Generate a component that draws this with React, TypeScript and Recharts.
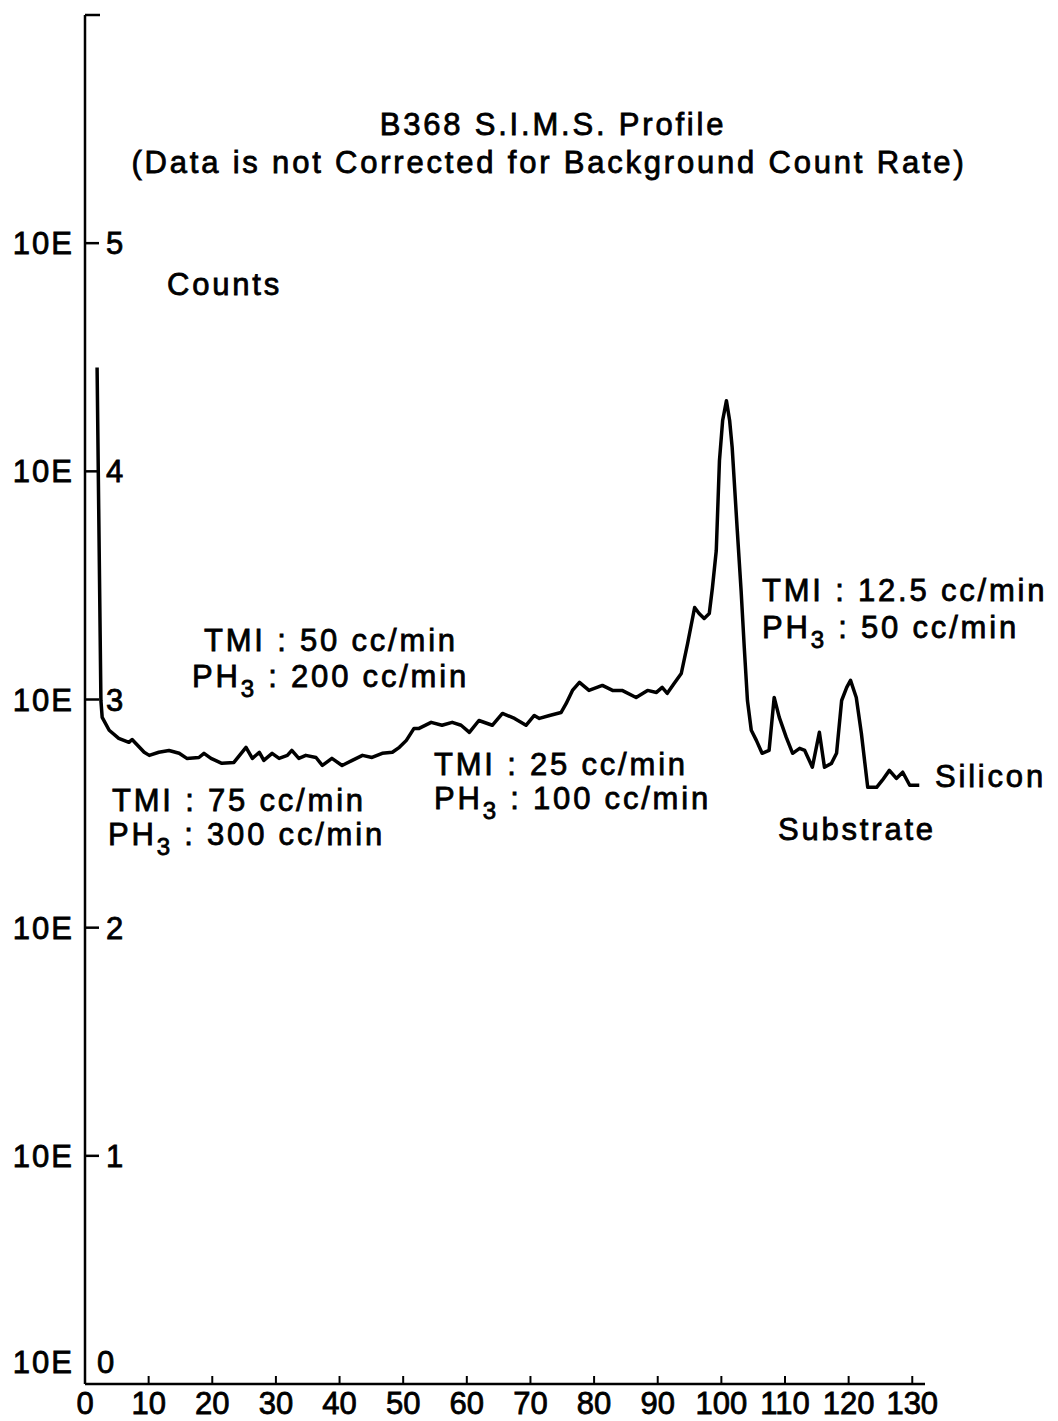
import React from 'react';
import { LineChart, Line, XAxis, YAxis, Customized } from 'recharts';

const depth = [1.9, 2.5, 2.7, 3.8, 5.3, 6.9, 7.4, 9.3, 10.1, 11.6, 13.2, 14.8, 16.0, 17.9, 18.7, 19.8, 21.5, 23.4, 25.3, 26.3, 27.4, 28.1, 29.4, 30.5, 31.8, 32.5, 33.6, 34.7, 36.3, 37.3, 38.8, 40.4, 42.0, 43.6, 45.1, 46.7, 48.3, 49.4, 50.5, 51.7, 52.5, 54.4, 56.1, 57.7, 59.1, 60.4, 61.9, 64.0, 65.6, 67.5, 69.3, 70.6, 71.4, 73.0, 74.8, 75.6, 76.6, 77.7, 79.2, 81.3, 82.9, 84.4, 86.6, 88.4, 89.8, 90.7, 91.5, 92.6, 93.7, 94.7, 95.8, 96.5, 97.3, 98.1, 98.6, 99.2, 99.7, 100.2, 100.8, 101.3, 101.7, 102.5, 103.1, 103.6, 104.1, 104.7, 105.5, 106.4, 107.5, 108.3, 109.1, 110.2, 111.2, 112.3, 113.1, 114.3, 115.4, 116.2, 117.3, 118.1, 118.9, 119.7, 120.3, 121.2, 122.0, 123.0, 124.4, 125.3, 126.4, 127.5, 128.5, 129.6, 131.1];

const counts = [28500, 990, 835, 733, 676, 649, 668, 587, 569, 587, 598, 581, 552, 557, 581, 552, 525, 530, 617, 552, 587, 541, 581, 552, 569, 598, 552, 569, 557, 514, 552, 514, 541, 569, 557, 581, 587, 617, 662, 747, 747, 794, 771, 794, 771, 718, 809, 771, 869, 826, 771, 851, 826, 851, 877, 959, 1096, 1189, 1096, 1153, 1096, 1096, 1021, 1096, 1074, 1130, 1064, 1178, 1300, 1762, 2530, 2382, 2265, 2382, 3097, 4498, 11140, 16700, 20400, 16700, 12700, 5508, 3006, 1690, 990, 733, 662, 581, 598, 1021, 835, 682, 581, 611, 598, 505, 718, 505, 525, 581, 990, 1130, 1213, 1021, 711, 412, 412, 443, 489, 451, 480, 421, 421];

const xTicks = [0, 10, 20, 30, 40, 50, 60, 70, 80, 90, 100, 110, 120, 130];
const yTicks = [1, 10, 100, 1000, 10000, 100000, 1000000];

const title = 'B368 S.I.M.S. Profile';
const subtitle = '(Data is not Corrected for Background Count Rate)';

const data = depth.map((d, i) => ({ depth: d, counts: counts[i] }));

const FONT = '"Liberation Sans", Arial, Helvetica, sans-serif';
const INK = '#000';
const FS = 31;
const SW = 0.8;
const txtStyle: React.CSSProperties = { letterSpacing: 2.8 };

const YTick = (props: any) => {
  const { x, y, payload } = props;
  const exp = Math.round(Math.log10(payload.value));
  if (exp === 6) {
    return <line x1={x} x2={x + 15} y1={y} y2={y} stroke={INK} strokeWidth={2.5} />;
  }
  const yy = exp === 0 ? y - 22 : y;
  return (
    <g>
      {exp !== 0 && <line x1={x} x2={x + 14} y1={y} y2={y} stroke={INK} strokeWidth={2.5} />}
      <text x={x - 11} y={yy + 11} textAnchor="end" fontSize={FS} fontFamily={FONT} fill={INK} stroke={INK} strokeWidth={SW} style={{ letterSpacing: 2 }}>10E</text>
      <text x={exp === 0 ? x + 12 : x + 21} y={yy + 11} textAnchor="start" fontSize={FS} fontFamily={FONT} fill={INK} stroke={INK} strokeWidth={SW}>{exp}</text>
    </g>
  );
};

const XTick = (props: any) => {
  const { x, y, payload } = props;
  const v = payload.value;
  return (
    <g>
      {v > 0 && <line x1={x} x2={x} y1={y - 8} y2={y} stroke={INK} strokeWidth={2} />}
      <text x={x} y={y + 30} textAnchor="middle" fontSize={FS} fontFamily={FONT} fill={INK} stroke={INK} strokeWidth={SW}>{v}</text>
    </g>
  );
};

const T = ({ x, y, anchor = 'start', children }: any) => (
  <text x={x} y={y} textAnchor={anchor} fontSize={FS} fontFamily={FONT} fill={INK} stroke={INK} strokeWidth={SW} style={txtStyle}>{children}</text>
);

const PH = ({ x, y, rest }: any) => (
  <text x={x} y={y} fontSize={FS} fontFamily={FONT} fill={INK} stroke={INK} strokeWidth={SW} style={txtStyle}>
    <tspan>PH</tspan>
    <tspan dy={10} fontSize={24}>3</tspan>
    <tspan dy={-10}>{rest}</tspan>
  </text>
);

const Annotations = () => (
  <g>
    <T x={545} y={127} anchor="middle">{title}</T>
    <T x={541} y={165} anchor="middle">{subtitle}</T>
    <T x={159} y={287}>Counts</T>
    <T x={196} y={643}>TMI : 50 cc/min</T>
    <PH x={184} y={679} rest=" : 200 cc/min" />
    <T x={104} y={803}>TMI : 75 cc/min</T>
    <PH x={100} y={837} rest=" : 300 cc/min" />
    <T x={426} y={767}>TMI : 25 cc/min</T>
    <PH x={426} y={801} rest=" : 100 cc/min" />
    <T x={754} y={593}>TMI : 12.5 cc/min</T>
    <PH x={754} y={630} rest=" : 50  cc/min" />
    <T x={927} y={779}>Silicon</T>
    <T x={770} y={832}>Substrate</T>
  </g>
);

export default function App() {
  return (
    <div style={{ width: 1042, height: 1413, background: '#fff' }}>
      <LineChart width={1042} height={1413} data={data} margin={{ top: 7, right: 125, bottom: 0, left: 0 }}>
        <XAxis
          type="number"
          dataKey="depth"
          domain={[0, 132]}
          ticks={xTicks}
          allowDataOverflow
          height={37}
          tickSize={0}
          tickMargin={0}
          tickLine={false}
          axisLine={{ stroke: INK, strokeWidth: 2.5 }}
          tick={<XTick />}
          interval={0}
        />
        <YAxis
          type="number"
          scale="log"
          domain={[1, 1000000]}
          ticks={yTicks}
          allowDataOverflow
          width={77}
          tickSize={0}
          tickMargin={0}
          tickLine={false}
          axisLine={{ stroke: INK, strokeWidth: 2.5 }}
          tick={<YTick />}
          interval={0}
        />
        <Line
          type="linear"
          dataKey="counts"
          stroke={INK}
          strokeWidth={3.5}
          dot={false}
          isAnimationActive={false}
          strokeLinejoin="round"
        />
        <Customized component={Annotations} />
      </LineChart>
    </div>
  );
}
